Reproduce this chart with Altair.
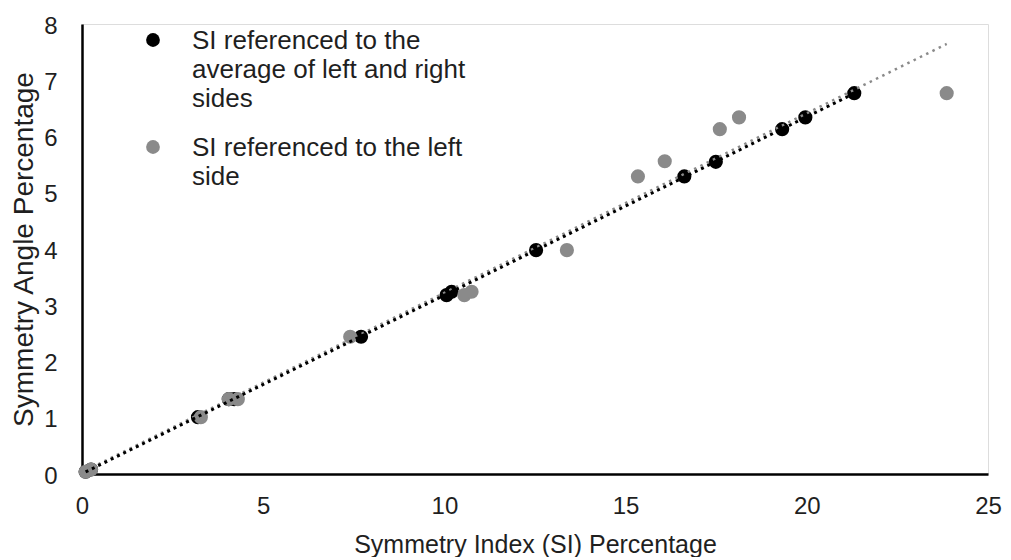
import altair as alt
import pandas as pd

series_avg = "SI referenced to the\naverage of left and right\nsides"
series_left = "SI referenced to the left\nside"

# Symmetry Index (x) and Symmetry Angle (y)
avg_x = [0.10, 0.25, 3.20, 4.05, 4.20, 7.70, 10.06, 10.20, 12.53, 16.62, 17.49, 19.32, 19.96, 21.31]
avg_y = [0.04, 0.08, 1.01, 1.33, 1.33, 2.44, 3.18, 3.24, 3.98, 5.29, 5.55, 6.13, 6.34, 6.77]

left_x = [0.10, 0.25, 3.28, 4.05, 4.30, 7.40, 10.55, 10.75, 13.38, 15.34, 16.08, 17.60, 18.13, 23.86]
left_y = [0.04, 0.08, 1.01, 1.33, 1.33, 2.44, 3.18, 3.24, 3.98, 5.29, 5.56, 6.13, 6.34, 6.77]

x_ticks = [0, 5, 10, 15, 20, 25]
y_ticks = [0, 1, 2, 3, 4, 5, 6, 7, 8]

df = pd.DataFrame({
    "x": avg_x + left_x,
    "y": avg_y + left_y,
    "series": [series_avg] * len(avg_x) + [series_left] * len(left_x),
    "order": [0] * len(avg_x) + [1] * len(left_x),
})

domain = [series_avg, series_left]
colors = ["#000000", "#8a8a8a"]
FONT = "Liberation Sans"
TXT = "#1f1f1f"

xscale = alt.Scale(domain=[0, 25], nice=False)
yscale = alt.Scale(domain=[0, 8], nice=False)

xaxis = alt.Axis(values=x_ticks, ticks=False, grid=False, domainColor="black", labelFlush=False,
                 domainWidth=2.5, labelFontSize=24, labelColor=TXT, labelPadding=11,
                 title="Symmetry Index (SI) Percentage", titleFontSize=25, titleFontWeight="normal",
                 titleColor=TXT, titleY=58, titleBaseline="top")
yaxis = alt.Axis(values=y_ticks, ticks=False, grid=False, domainColor="black", labelFlush=False,
                 domainWidth=2.5, labelFontSize=24, labelColor=TXT, labelPadding=25,
                 labelBaseline="alphabetic",
                 title="Symmetry Angle Percentage", titleFontSize=28, titleFontWeight="normal",
                 titleColor=TXT, titlePadding=5)

base = alt.Chart(df)
X = alt.X("x:Q", scale=xscale, axis=xaxis)
Y = alt.Y("y:Q", scale=yscale, axis=yaxis)

points = base.mark_circle(size=200, opacity=1).encode(
    x=X, y=Y,
    color=alt.Color("series:N", scale=alt.Scale(domain=domain, range=colors),
                    legend=alt.Legend(title=None, orient="none", legendX=58, legendY=3,
                                      labelFontSize=26, labelFont=FONT, labelColor=TXT,
                                      labelExpr="split(datum.label, '\\n')",
                                      labelLimit=500, symbolSize=190, symbolType="circle",
                                      rowPadding=22, labelOffset=26,
                                      labelBaseline="alphabetic")),
    order=alt.Order("order:Q"),
)

trend_left = base.transform_filter(alt.datum.order == 1).transform_regression(
    "x", "y", method="linear").mark_line(color="#8a8a8a", strokeDash=[2.5, 4.5], strokeWidth=2.5).encode(x=X, y=Y)

trend_avg = base.transform_filter(alt.datum.order == 0).transform_regression(
    "x", "y", method="linear").mark_line(color="#000000", strokeDash=[3, 4], strokeWidth=3).encode(x=X, y=Y)

chart = alt.layer(points, trend_left, trend_avg).properties(
    width=906, height=450,
    autosize=alt.AutoSizeParams(type="none"),
    padding={"left": 74, "top": 16, "right": 15, "bottom": 83},
).configure_view(stroke=None).configure(
    font=FONT,
    style={"guide-label": {"dy": 9, "lineHeight": 29}},
)

chart.save("out.html", embed_options={"renderer": "svg", "actions": False})
